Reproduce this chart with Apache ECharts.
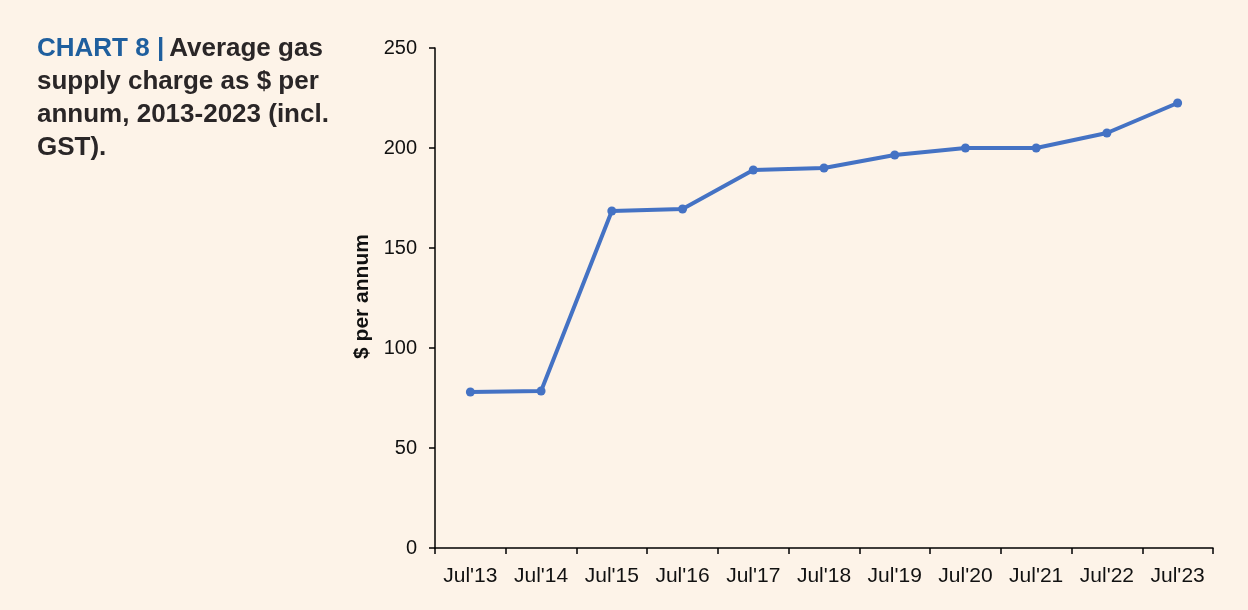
<!DOCTYPE html>
<html>
<head>
<meta charset="utf-8">
<script src="https://cdn.jsdelivr.net/npm/echarts@6/dist/echarts.min.js"></script>
<style>
html,body{margin:0;padding:0;background:#fdf3e8;}
#c{width:1248px;height:610px;}
</style>
</head>
<body>
<div id="c"></div>
<script>
const categories = ["Jul'13","Jul'14","Jul'15","Jul'16","Jul'17","Jul'18","Jul'19","Jul'20","Jul'21","Jul'22","Jul'23"];
const supplyCharge = [78, 78.5, 168.5, 169.5, 189, 190, 196.5, 200, 200, 207.5, 222.5];
const yTicks = [0, 50, 100, 150, 200, 250];

const FONT = 'Liberation Sans, Arial, sans-serif';
const chart = echarts.init(document.getElementById('c'));
chart.setOption({
  backgroundColor: '#fdf3e8',
  animation: false,
  title: {
    left: 32, top: 27,
    text: '{a|CHART 8 |} {b|Average gas}\n{b|supply charge as $ per}\n{b|annum, 2013-2023 (incl.}\n{b|GST).}',
    textStyle: {
      rich: {
        a: {fontFamily: FONT, fontSize: 26, fontWeight: 'bold', color: '#1f5f9e', lineHeight: 33},
        b: {fontFamily: FONT, fontSize: 26, fontWeight: 'bold', color: '#2a2627', lineHeight: 33}
      }
    }
  },
  grid: {left: 435, right: 35, top: 48, bottom: 62, containLabel: false},
  xAxis: {
    type: 'category',
    data: categories,
    boundaryGap: true,
    axisLine: {lineStyle: {color: '#000', width: 1.5}},
    axisTick: {show: true, length: 6, inside: false, lineStyle: {color: '#000', width: 1.5}},
    axisLabel: {color: '#111', fontSize: 21, fontFamily: FONT, margin: 18},
    splitLine: {show: false}
  },
  yAxis: {
    type: 'value',
    min: yTicks[0], max: yTicks[yTicks.length - 1], interval: 50,
    name: '$ per annum',
    nameLocation: 'middle',
    nameGap: 60,
    nameRotate: 90,
    nameTextStyle: {fontFamily: FONT, fontSize: 21, fontWeight: 'bold', color: '#111', padding: [0, 0, 0, 3]},
    axisLine: {show: true, lineStyle: {color: '#000', width: 1.5}},
    axisTick: {show: true, length: 6, lineStyle: {color: '#000', width: 1.5}},
    axisLabel: {color: '#111', fontSize: 20, fontFamily: FONT, margin: 18},
    splitLine: {show: false}
  },
  series: [{
    type: 'line',
    data: supplyCharge,
    symbol: 'circle',
    symbolSize: 9,
    lineStyle: {color: '#4472c4', width: 4},
    itemStyle: {color: '#4472c4'}
  }]
});
</script>
</body>
</html>
